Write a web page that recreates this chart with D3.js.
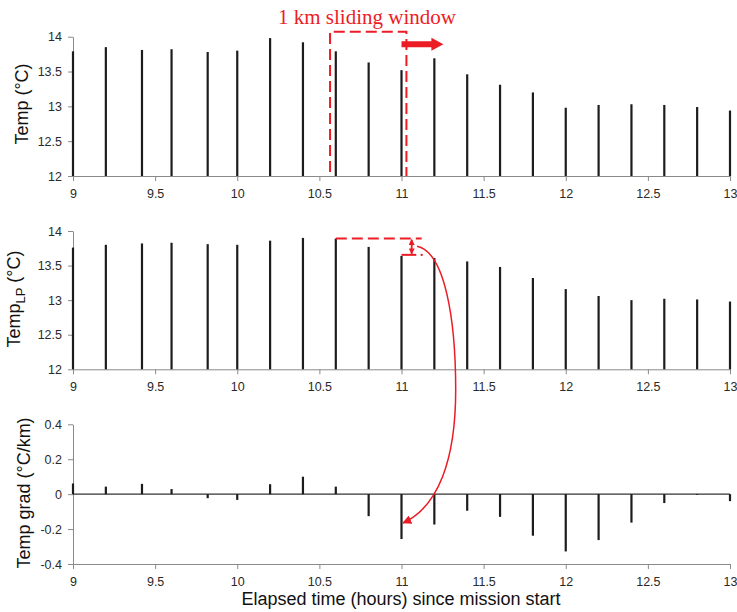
<!DOCTYPE html>
<html>
<head>
<meta charset="utf-8">
<script src="https://cdn.jsdelivr.net/npm/d3@7"></script>
<style>
  body { margin: 0; background: #fff; }
  .axis path, .axis line { stroke: #8a8a8a; }
  .axis text { fill: #2a2a2a; font: 12.5px "Liberation Sans", Arial, sans-serif; }
  .ylabel { font: 18px "Liberation Sans", Arial, sans-serif; fill: #111; }
</style>
</head>
<body>
<svg id="chart" width="737" height="612"></svg>
<script>
// elapsed time of each sample (hours)
var times = [9, 9.2, 9.42, 9.6, 9.82, 10, 10.2, 10.4, 10.6, 10.8, 11, 11.2, 11.4, 11.6, 11.8, 12, 12.2, 12.4, 12.6, 12.8, 13];
// raw temperature
var temp = [13.79, 13.85, 13.81, 13.82, 13.78, 13.80, 13.98, 13.92, 13.79, 13.63, 13.52, 13.69, 13.46, 13.31, 13.20, 12.98, 13.02, 13.03, 13.02, 12.99, 12.94];
// low-pass filtered temperature
var tempLP = [13.76, 13.80, 13.82, 13.83, 13.81, 13.80, 13.86, 13.90, 13.89, 13.77, 13.64, 13.61, 13.56, 13.48, 13.32, 13.16, 13.06, 13.00, 13.02, 13.01, 12.98];
// temperature gradient
var grad = [0.061, 0.043, 0.059, 0.029, -0.023, -0.033, 0.057, 0.10, 0.043, -0.126, -0.257, -0.174, -0.095, -0.13, -0.238, -0.328, -0.263, -0.163, -0.051, -0.005, -0.04];

var xTicks = [9, 9.5, 10, 10.5, 11, 11.5, 12, 12.5, 13];
var tempTicks = [12, 12.5, 13, 13.5, 14];
var gradTicks = [-0.4, -0.2, 0, 0.2, 0.4];
var gradLabels = ["-0.4", "-0.2", "0", "0.2", "0.4"];

var red = "#ec1c24";
var svg = d3.select("#chart");
var x = d3.scaleLinear().domain([9, 13]).range([73, 730]);

function panel(top, bottom, domain, ticks, values, base, fmt) {
  var y = d3.scaleLinear().domain(domain).range([bottom, top]);
  var g = svg.append("g");

  g.append("g").attr("class", "axis")
      .attr("transform", "translate(0," + bottom + ")")
      .call(d3.axisBottom(x).tickValues(xTicks).tickSize(5).tickSizeOuter(0).tickPadding(8).tickFormat(d3.format("")));
  g.append("g").attr("class", "axis")
      .attr("transform", "translate(" + x.range()[0] + ",0)")
      .call(d3.axisLeft(y).tickValues(ticks).tickSize(5).tickSizeOuter(0).tickPadding(6).tickFormat(fmt));

  if (base !== domain[0]) {
    g.append("line")
        .attr("x1", x.range()[0]).attr("x2", x.range()[1])
        .attr("y1", y(base)).attr("y2", y(base))
        .attr("stroke", "#333").attr("stroke-width", 1.2);
  }

  g.selectAll(".stem")
      .data(values)
    .enter().append("line")
      .attr("class", "stem")
      .attr("x1", (d, i) => x(times[i]))
      .attr("x2", (d, i) => x(times[i]))
      .attr("y1", y(base))
      .attr("y2", d => y(d))
      .attr("stroke", "#1c1c1c")
      .attr("stroke-width", 2.2);
  return y;
}

var yTop = panel(36.7, 176, [12, 14], tempTicks, temp, 12, d3.format(""));
var yMid = panel(231, 369.3, [12, 14], tempTicks, tempLP, 12, d3.format(""));
var yBot = panel(424.3, 564, [-0.4, 0.4], gradTicks, grad, 0, (d, i) => gradLabels[i]);

// axis titles
svg.append("text").attr("class", "ylabel")
    .attr("transform", "translate(28,104) rotate(-90)")
    .attr("text-anchor", "middle")
    .text("Temp (°C)");

var lp = svg.append("text").attr("class", "ylabel")
    .attr("transform", "translate(20,299) rotate(-90)")
    .attr("text-anchor", "middle");
lp.append("tspan").text("Temp");
lp.append("tspan").attr("dy", 5).attr("font-size", 13).text("LP");
lp.append("tspan").attr("dy", -5).text(" (°C)");

svg.append("text").attr("class", "ylabel")
    .attr("transform", "translate(30,493) rotate(-90)")
    .attr("text-anchor", "middle")
    .text("Temp grad (°C/km)");

svg.append("text").attr("class", "ylabel")
    .attr("x", 401).attr("y", 605)
    .attr("text-anchor", "middle")
    .attr("font-size", 17)
    .text("Elapsed time (hours) since mission start");

// --- annotations ---
var defs = svg.append("defs");
defs.append("marker")
    .attr("id", "head").attr("viewBox", "0 0 10 10")
    .attr("refX", 9).attr("refY", 5)
    .attr("markerUnits", "userSpaceOnUse")
    .attr("markerWidth", 9).attr("markerHeight", 9)
    .attr("orient", "auto-start-reverse")
  .append("path").attr("d", "M0,0L10,5L0,10Z").attr("fill", red);
defs.append("marker")
    .attr("id", "small").attr("viewBox", "0 0 10 10")
    .attr("refX", 9).attr("refY", 5)
    .attr("markerUnits", "userSpaceOnUse")
    .attr("markerWidth", 6).attr("markerHeight", 6)
    .attr("orient", "auto-start-reverse")
  .append("path").attr("d", "M0,0L10,5L0,10Z").attr("fill", red);

// sliding window box
var wl = 10.565, wr = 11.03;
svg.append("path")
    .attr("d", "M" + x(wl) + "," + (yTop(12) - 4) + "V" + (yTop(14) - 5) + "H" + x(wr) + "V" + yTop(12))
    .attr("fill", "none").attr("stroke", red).attr("stroke-width", 2)
    .attr("stroke-dasharray", "11,5");

svg.append("text")
    .attr("x", 367).attr("y", 24)
    .attr("text-anchor", "middle")
    .attr("fill", red)
    .style("font", "21px 'Liberation Serif', 'Times New Roman', serif")
    .text("1 km sliding window");

// thick direction arrow
var ay = yTop(13.89), ax0 = x(11.0), ax1 = x(11.255);
svg.append("path")
    .attr("d", "M" + ax0 + "," + (ay - 3) + "H" + (ax1 - 12) + "V" + (ay - 6.5) + "L" + ax1 + "," + ay +
               "L" + (ax1 - 12) + "," + (ay + 6.5) + "V" + (ay + 3) + "H" + ax0 + "Z")
    .attr("fill", red);

// difference markers on filtered panel
svg.append("line")
    .attr("x1", x(10.6)).attr("x2", x(11.123))
    .attr("y1", yMid(13.89)).attr("y2", yMid(13.89))
    .attr("stroke", red).attr("stroke-width", 2).attr("stroke-dasharray", "11,5");
svg.append("line")
    .attr("x1", x(11.0)).attr("x2", x(11.09))
    .attr("y1", yMid(13.655)).attr("y2", yMid(13.655))
    .attr("stroke", red).attr("stroke-width", 2);
svg.append("circle")
    .attr("cx", x(11.123)).attr("cy", yMid(13.655)).attr("r", 1.2).attr("fill", red);
svg.append("line")
    .attr("x1", x(11.062)).attr("x2", x(11.062))
    .attr("y1", yMid(13.89) + 1).attr("y2", yMid(13.655) - 1)
    .attr("stroke", red).attr("stroke-width", 1.8)
    .attr("marker-start", "url(#small)").attr("marker-end", "url(#small)");

// curved arrow to the gradient panel
var p0 = [x(11.095), yMid(13.78)], p3 = [x(11.01), yBot(-0.165)];
svg.append("path")
    .attr("d", "M" + p0 + "C" + [p0[0] + 28, p0[1] + 6] + " " + [x(11.33), 320] + " " + [x(11.33), 390] +
               "S" + [p3[0] + 35, p3[1] - 16] + " " + p3)
    .attr("fill", "none").attr("stroke", red).attr("stroke-width", 1.5)
    .attr("marker-end", "url(#head)");
</script>
</body>
</html>
